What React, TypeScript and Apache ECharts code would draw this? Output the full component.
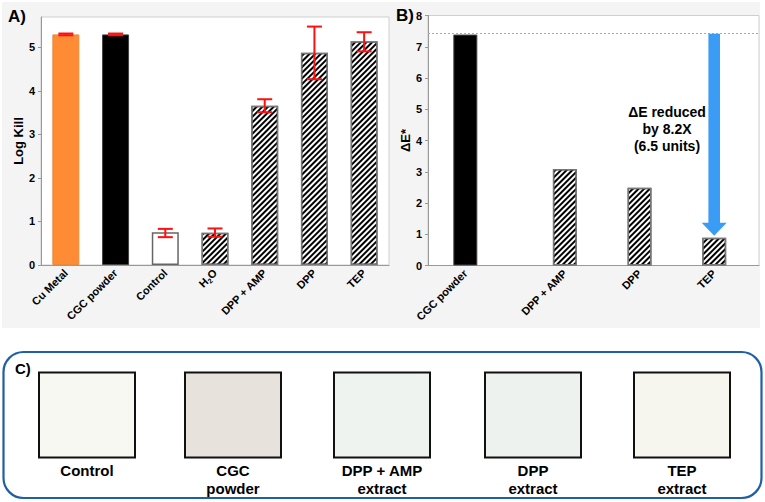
import React, { useEffect, useRef } from "react";
import * as echarts from "echarts";

// Panel A data
const catsA = ["Cu Metal", "CGC powder", "Control", "H2O", "DPP + AMP", "DPP", "TEP"];
const logKill = [5.3, 5.3, 0.75, 0.74, 3.66, 4.88, 5.14];
const errLow = [5.28, 5.28, 0.64, 0.65, 3.51, 4.27, 4.91];
const errHigh = [5.32, 5.32, 0.83, 0.84, 3.81, 5.48, 5.35];

// Panel B data
const catsB = ["CGC powder", "DPP + AMP", "DPP", "TEP"];
const posB = [1.5, 5.5, 8.5, 11.5];
const deltaE = [7.39, 3.09, 2.49, 0.89];
const refLevel = 7.42;
const arrowFrom = 7.42;
const arrowTo = 0.95;
const noteLines = ["ΔE reduced", "by 8.2X", "(6.5 units)"];

// Panel C data
const swatchLabels = [["Control"], ["CGC", "powder"], ["DPP + AMP", "extract"], ["DPP", "extract"], ["TEP", "extract"]];
const swatchColors = ["#f8f8f3", "#e8e2dc", "#eef3ef", "#eef2ee", "#f6f6ef"];

const FONT = "'Liberation Sans', Arial, Helvetica, sans-serif";
const swatchX = [39, 185, 334, 485, 634];

const hatch = {
  symbol: "rect",
  symbolSize: 1,
  dashArrayX: [1, 0],
  dashArrayY: [1.6, 1.6],
  rotation: -Math.PI / 4,
  color: "#000",
};

function barStyleA(i: number) {
  if (i === 0) return { color: "#ff8c35", borderColor: "#e98a3c", borderWidth: 1 };
  if (i === 1) return { color: "#000", borderColor: "#444", borderWidth: 1 };
  if (i === 2) return { color: "#fff", borderColor: "#666", borderWidth: 1.5 };
  return { color: "#fff", borderColor: "#777", borderWidth: 1.5, decal: hatch };
}

export default function App() {
  const ref = useRef<HTMLDivElement>(null);
  useEffect(() => {
    if (!ref.current) return;
    const chart = echarts.init(ref.current, undefined, { renderer: "svg" });

    const graphics: any[] = [
      { type: "rect", z: -100, shape: { x: 2, y: 2, width: 758, height: 326 }, style: { fill: "#f4f4f4" }, silent: true },
      { type: "text", left: 8, top: 8, style: { text: "A)", font: `bold 17px ${FONT}`, fill: "#000" } },
      { type: "text", left: 396, top: 7, style: { text: "B)", font: `bold 17px ${FONT}`, fill: "#000" } },
      {
        type: "text",
        x: 667,
        y: 103,
        style: {
          text: noteLines.join("\n"),
          font: `bold 14px ${FONT}`,
          fill: "#000",
          align: "center",
          lineHeight: 17,
        },
        z: 10,
      },
      {
        type: "rect",
        shape: { x: 3.5, y: 352, width: 758, height: 146, r: 20 },
        style: { fill: "none", stroke: "#1f5fa6", lineWidth: 2.2 },
      },
      { type: "text", left: 15, top: 361, style: { text: "C)", font: `bold 15px ${FONT}`, fill: "#000" } },
    ];
    swatchX.forEach((x, i) => {
      graphics.push({
        type: "rect",
        shape: { x, y: 372.5, width: 96, height: 85 },
        style: { fill: swatchColors[i], stroke: "#111", lineWidth: 2 },
      });
      graphics.push({
        type: "text",
        x: x + 48,
        y: 461,
        style: {
          text: swatchLabels[i].join("\n"),
          font: `bold 15px ${FONT}`,
          fill: "#000",
          align: "center",
          lineHeight: 18,
        },
      });
    });

    const axisLabelBase = { fontFamily: FONT, fontWeight: "bold" as const, fontSize: 11, color: "#000" };

    chart.setOption({
      animation: false,
      backgroundColor: "#fff",
      graphic: graphics,
      grid: [
        { left: 41, top: 17, width: 348, height: 248, show: true, backgroundColor: "#fff", borderColor: "#cfcfcf", borderWidth: 1 },
        { left: 428, top: 15.5, width: 331, height: 250, show: true, backgroundColor: "#fff", borderColor: "#cfcfcf", borderWidth: 1 },
      ],
      xAxis: [
        {
          type: "category",
          gridIndex: 0,
          data: catsA,
          axisLine: { lineStyle: { color: "#999" } },
          axisTick: { show: false },
          axisLabel: {
            ...axisLabelBase,
            rotate: 45,
            interval: 0,
            margin: 6,
            formatter: (v: string) => (v === "H2O" ? "{a|H}{s|2}{a|O}" : v),
            rich: {
              a: { fontFamily: FONT, fontWeight: "bold", fontSize: 11, color: "#000", lineHeight: 14 },
              s: { fontFamily: FONT, fontWeight: "bold", fontSize: 7, color: "#000", lineHeight: 14, verticalAlign: "bottom" },
            },
          },
        },
        {
          type: "value",
          gridIndex: 1,
          min: 0,
          max: 13.3,
          interval: 0.5,
          splitLine: { show: false },
          axisLine: { lineStyle: { color: "#999" } },
          axisTick: { show: false },
          axisLabel: {
            ...axisLabelBase,
            rotate: 45,
            margin: 6,
            showMaxLabel: false,
            showMinLabel: true,
            formatter: (v: number) => {
              const i = posB.findIndex((p) => Math.abs(p - v) < 1e-6);
              return i >= 0 ? catsB[i] : "";
            },
          },
        },
      ],
      yAxis: [
        {
          type: "value",
          gridIndex: 0,
          min: 0,
          max: 5.7,
          interval: 1,
          splitLine: { show: false },
          axisLine: { show: true, lineStyle: { color: "#999" } },
          axisTick: { show: true, length: 3, lineStyle: { color: "#999" } },
          axisLabel: { ...axisLabelBase, margin: 6, showMaxLabel: false },
          name: "Log Kill",
          nameLocation: "middle",
          nameGap: 16,
          nameTextStyle: { fontFamily: FONT, fontWeight: "bold", fontSize: 13, color: "#000" },
        },
        {
          type: "value",
          gridIndex: 1,
          min: 0,
          max: 8,
          interval: 1,
          splitLine: { show: false },
          axisLine: { show: true, lineStyle: { color: "#999" } },
          axisTick: { show: true, length: 3, lineStyle: { color: "#999" } },
          axisLabel: { ...axisLabelBase, margin: 6 },
          name: "ΔE*",
          nameLocation: "middle",
          nameGap: 14,
          nameTextStyle: { fontFamily: FONT, fontWeight: "bold", fontSize: 13, color: "#000" },
        },
      ],
      series: [
        {
          type: "bar",
          xAxisIndex: 0,
          yAxisIndex: 0,
          barWidth: 27,
          data: logKill.map((v, i) => ({ value: v, itemStyle: barStyleA(i) })),
        },
        {
          type: "custom",
          xAxisIndex: 0,
          yAxisIndex: 0,
          z: 5,
          data: catsA.map((_, i) => [i, errLow[i], errHigh[i]]),
          encode: { x: 0, y: [1, 2] },
          renderItem: (params: any, api: any) => {
            const x = api.value(0);
            const lo = api.coord([x, api.value(1)]);
            const hi = api.coord([x, api.value(2)]);
            const hw = 7.5;
            const st = { stroke: "#ff1010", lineWidth: 2 };
            return {
              type: "group",
              children: [
                { type: "line", shape: { x1: lo[0], y1: lo[1], x2: hi[0], y2: hi[1] }, style: st },
                { type: "line", shape: { x1: lo[0] - hw, y1: lo[1], x2: lo[0] + hw, y2: lo[1] }, style: st },
                { type: "line", shape: { x1: hi[0] - hw, y1: hi[1], x2: hi[0] + hw, y2: hi[1] }, style: st },
              ],
            };
          },
        },
        {
          type: "bar",
          xAxisIndex: 1,
          yAxisIndex: 1,
          barWidth: 24,
          data: posB.map((p, i) => ({
            value: [p, deltaE[i]],
            itemStyle: i === 0 ? { color: "#000", borderColor: "#444", borderWidth: 1 } : { color: "#fff", borderColor: "#777", borderWidth: 1.5, decal: hatch },
          })),
          markLine: {
            silent: true,
            symbol: "none",
            label: { show: false },
            lineStyle: { color: "#aaa", type: [2, 2], width: 1 },
            data: [{ yAxis: refLevel }],
          },
        },
        {
          type: "custom",
          xAxisIndex: 1,
          yAxisIndex: 1,
          z: 6,
          data: [[posB[3], arrowFrom, arrowTo]],
          encode: { x: 0, y: [1, 2] },
          renderItem: (params: any, api: any) => {
            const x = api.value(0);
            const top = api.coord([x, api.value(1)]);
            const bot = api.coord([x, api.value(2)]);
            const sh = 5.8;
            const hh = 12.5;
            const hl = 13;
            const cx = top[0];
            return {
              type: "polygon",
              shape: {
                points: [
                  [cx - sh, top[1]],
                  [cx + sh, top[1]],
                  [cx + sh, bot[1] - hl],
                  [cx + hh, bot[1] - hl],
                  [cx, bot[1]],
                  [cx - hh, bot[1] - hl],
                  [cx - sh, bot[1] - hl],
                ],
              },
              style: { fill: "#3b9cf5" },
            };
          },
        },
      ],
    });
    return () => chart.dispose();
  }, []);
  return <div ref={ref} style={{ position: "fixed", left: 0, top: 0, width: 765, height: 502 }} />;
}
